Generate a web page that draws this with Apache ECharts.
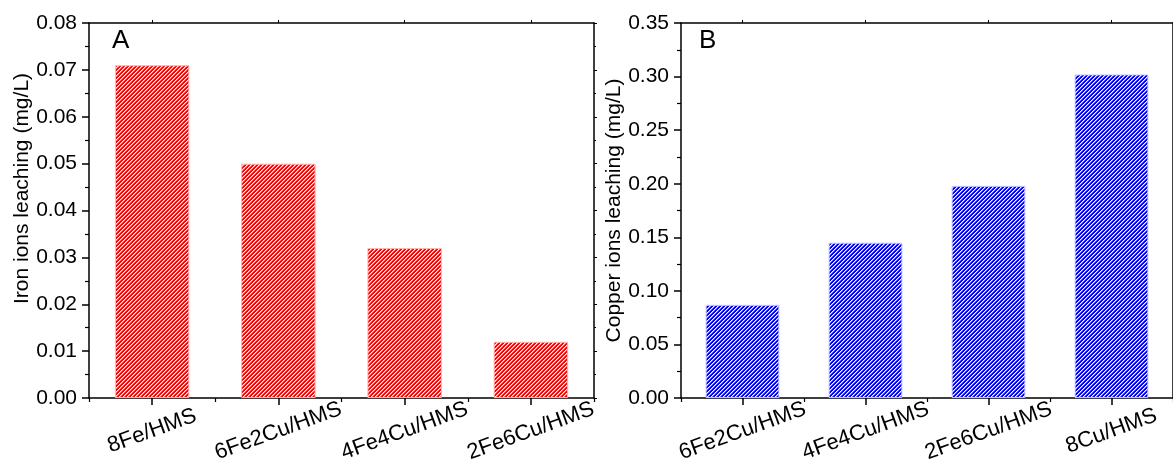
<!DOCTYPE html>
<html>
<head>
<meta charset="utf-8">
<script src="https://cdn.jsdelivr.net/npm/echarts@6/dist/echarts.min.js"></script>
<style>
html,body{margin:0;padding:0;background:#fff;}
#chart{width:1173px;height:472px;}
</style>
</head>
<body>
<div id="chart"></div>
<script>
// ---- data ----
const ironCategories = ['8Fe/HMS', '6Fe2Cu/HMS', '4Fe4Cu/HMS', '2Fe6Cu/HMS'];
const ironValues = [0.071, 0.050, 0.032, 0.012];
const copperCategories = ['6Fe2Cu/HMS', '4Fe4Cu/HMS', '2Fe6Cu/HMS', '8Cu/HMS'];
const copperValues = [0.087, 0.145, 0.198, 0.302];
const ironTicks = { min: 0, max: 0.08, interval: 0.01 };
const copperTicks = { min: 0, max: 0.35, interval: 0.05 };

// ---- styles ----
const FONT = '"Liberation Sans", Arial, sans-serif';
function hatch(base, edge) {
  const c = document.createElement('canvas');
  c.width = 4; c.height = 4;
  const ctx = c.getContext('2d');
  ctx.fillStyle = base; ctx.fillRect(0, 0, 4, 4);
  for (let x = 0; x < 4; x++) {
    ctx.fillStyle = '#ffffff';
    ctx.fillRect(x, 3 - x, 1, 1);
    ctx.fillStyle = edge;
    ctx.fillRect(x, (4 - x) % 4, 1, 1);
  }
  return c;
}
const redPattern = { image: hatch('#ff0000', '#ff8080'), repeat: 'repeat' };
const bluePattern = { image: hatch('#0000ff', '#8080ff'), repeat: 'repeat' };

const grids = [
  { left: 89, top: 23, width: 505, height: 375 },
  { left: 681, top: 23, width: 497, height: 375 }
];
const axisLine = { show: true, onZero: false, lineStyle: { color: '#000', width: 1.5 } };

function xAxes(gi, cats) {
  return [
    { // main bottom axis: labels + major ticks at centers
      type: 'category', gridIndex: gi, data: cats, position: 'bottom',
      axisLine: axisLine,
      axisTick: { show: true, alignWithLabel: true, length: 7, lineStyle: { color: '#000', width: 1.5 } },
      axisLabel: { color: '#000', fontFamily: FONT, fontSize: 22, rotate: 20, align: 'center', verticalAlign: 'middle', margin: 33, interval: 0 },
      splitLine: { show: false }
    },
    { // minor ticks at category boundaries
      type: 'category', gridIndex: gi, data: cats, position: 'bottom',
      axisLine: { show: false },
      axisTick: { show: true, length: 4, lineStyle: { color: '#000', width: 1.2 } },
      axisLabel: { show: false }, splitLine: { show: false }
    },
    { // top frame
      type: 'category', gridIndex: gi, data: cats, position: 'top',
      axisLine: axisLine,
      axisTick: { show: true, alignWithLabel: true, length: 3, lineStyle: { color: '#000', width: 1 } },
      axisLabel: { show: false }, splitLine: { show: false }
    }
  ];
}
function yAxes(gi, t, name, namePad) {
  return [
    {
      type: 'value', gridIndex: gi, min: t.min, max: t.max, interval: t.interval, position: 'left',
      name: name, nameLocation: 'middle', nameGap: 56,
      nameTextStyle: { color: '#000', fontFamily: FONT, fontSize: 21, padding: namePad },
      axisLine: axisLine,
      axisTick: { show: true, length: 7, lineStyle: { color: '#000', width: 1.5 } },
      minorTick: { show: true, splitNumber: 2, length: 4, lineStyle: { color: '#000', width: 1.2 } },
      axisLabel: { color: '#000', fontFamily: FONT, fontSize: 21, margin: 12, formatter: v => v.toFixed(2) },
      splitLine: { show: false }
    },
    {
      type: 'value', gridIndex: gi, min: t.min, max: t.max, interval: t.interval, position: 'right',
      axisLine: axisLine,
      axisTick: { show: true, length: 3, lineStyle: { color: '#000', width: 1 } },
      minorTick: { show: true, splitNumber: 2, length: 2, lineStyle: { color: '#000', width: 1 } },
      axisLabel: { show: false }, splitLine: { show: false }
    }
  ];
}

const chart = echarts.init(document.getElementById('chart'), null, { renderer: 'canvas' });
chart.setOption({
  animation: false,
  backgroundColor: '#fff',
  grid: grids,
  xAxis: [...xAxes(0, ironCategories), ...xAxes(1, copperCategories)],
  yAxis: [...yAxes(0, ironTicks, 'Iron ions leaching (mg/L)', [0, 0, 0, 44]),
          ...yAxes(1, copperTicks, 'Copper ions leaching (mg/L)', [0, 0, 0, 0])],
  graphic: [
    { type: 'text', left: 112, top: 28, style: { text: 'A', font: '26px ' + FONT, fill: '#000' } },
    { type: 'text', left: 699, top: 28, style: { text: 'B', font: '26px ' + FONT, fill: '#000' } }
  ],
  series: [
    {
      type: 'bar', xAxisIndex: 0, yAxisIndex: 0, data: ironValues, barWidth: '59%',
      itemStyle: { color: redPattern, borderColor: '#ffb8b8', borderWidth: 1 }
    },
    {
      type: 'bar', xAxisIndex: 3, yAxisIndex: 2, data: copperValues, barWidth: '60%',
      itemStyle: { color: bluePattern, borderColor: '#c8c8ff', borderWidth: 1 }
    }
  ]
});
</script>
</body>
</html>
